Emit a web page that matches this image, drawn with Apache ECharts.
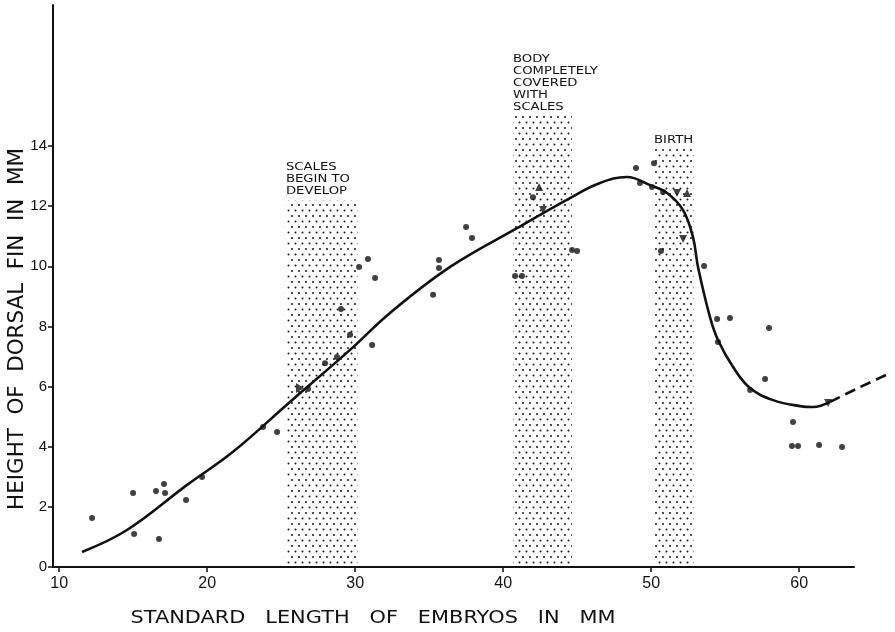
<!DOCTYPE html>
<html>
<head>
<meta charset="utf-8">
<script src="https://cdn.jsdelivr.net/npm/echarts@6/dist/echarts.min.js"></script>
<style>
  html, body { margin: 0; padding: 0; background: #fff; }
  #chart { width: 895px; height: 632px; }
</style>
</head>
<body>
<div id="chart"></div>
<script>
// Axis tick values
const xTicks = [10, 20, 30, 40, 50, 60];
const yTicks = [0, 2, 4, 6, 8, 10, 12, 14];

// Fitted growth curve: standard length (mm) -> dorsal fin height (mm)
const curveX = [11.54, 14.58, 18.64, 21.74, 25.59, 29.65, 32.35, 36.41, 40.93, 44.51,
                46.54, 48.36, 49.92, 51.07, 52.15, 52.82, 53.16, 53.97, 54.51, 55.53,
                56.68, 58.23, 60.05, 60.93, 62.08];
const curveY = [0.50, 1.23, 2.73, 3.83, 5.49, 7.22, 8.45, 9.98, 11.27, 12.27,
                12.77, 12.97, 12.70, 12.44, 11.87, 10.97, 9.98, 8.31, 7.55, 6.65,
                5.95, 5.55, 5.35, 5.32, 5.49];

// Extrapolated end of the curve (dashed)
const dashX = [62.08, 64.10, 66.14];
const dashY = [5.49, 5.98, 6.45];

// Individual embryos (dots)
const dotX = [12.22, 14.99, 15.06, 16.54, 17.08, 17.15, 16.74, 18.57, 19.65, 23.77,
              24.72, 26.81, 27.96, 28.77, 29.04, 30.26, 30.86, 31.34, 31.14, 29.65,
              35.26, 35.66, 35.66, 37.49, 37.89, 42.01, 40.80, 41.27, 44.65, 44.99,
              48.97, 50.19, 49.24, 50.05, 50.80, 50.66, 53.57, 54.45, 55.32, 54.51,
              57.96, 57.69, 56.68, 59.58, 59.51, 59.92, 61.34, 62.89];
const dotY = [1.63, 2.46, 1.10, 2.53, 2.76, 2.46, 0.93, 2.23, 2.99, 4.66,
              4.49, 5.92, 6.78, 6.98, 8.58, 9.98, 10.24, 9.61, 7.38, 7.72,
              9.05, 10.21, 9.94, 11.31, 10.94, 12.30, 9.68, 9.68, 10.54, 10.51,
              13.27, 13.43, 12.77, 12.64, 12.47, 10.51, 10.01, 8.25, 8.28, 7.48,
              7.95, 6.25, 5.89, 4.82, 4.02, 4.02, 4.06, 3.99];

// Individual embryos (triangles)
const upX = [42.42, 52.42];
const upY = [12.64, 12.44];
const downX = [42.69, 51.74, 52.15, 61.95];
const downY = [11.87, 12.44, 10.91, 5.45];
const rightX = [26.27];
const rightY = [5.95];

// Developmental stages, shaded as dotted bands
const stageNames = ['SCALES\nBEGIN TO\nDEVELOP',
                    'BODY\nCOMPLETELY\nCOVERED\nWITH\nSCALES',
                    'BIRTH'];
const stageFrom = [25.32, 40.66, 50.19];
const stageTo = [30.18, 44.64, 52.89];
const stageTop = [12.2, 15.0, 13.9];

const pairs = (xs, ys) => xs.map((x, i) => [x, ys[i]]);

// Stipple tile for the bands
const tile = document.createElement('canvas');
tile.width = 7;
tile.height = 11;
const tc = tile.getContext('2d');
tc.fillStyle = '#1a1a1a';
tc.beginPath();
tc.arc(1.5, 1.5, 1.0, 0, Math.PI * 2);
tc.moveTo(5 + 1.0, 7);
tc.arc(5, 7, 1.0, 0, Math.PI * 2);
tc.fill();
const stipple = { image: tile, repeat: 'repeat' };

const ink = '#111';
const chart = echarts.init(document.getElementById('chart'), null, { renderer: 'canvas' });

chart.setOption({
  animation: false,
  backgroundColor: '#fff',
  grid: { left: 53, right: 41, top: 5, bottom: 65, containLabel: false },
  xAxis: {
    type: 'value',
    min: 9.58,
    max: 63.70,
    axisLine: { onZero: false, lineStyle: { color: ink, width: 2 } },
    axisTick: { customValues: xTicks, length: 5, lineStyle: { color: ink, width: 1.5 } },
    axisLabel: { customValues: xTicks, margin: 9, color: ink, fontSize: 16,
                 fontFamily: 'Liberation Sans' },
    splitLine: { show: false }
  },
  yAxis: {
    type: 'value',
    min: 0,
    max: 18.69,
    axisLine: { show: true, onZero: false, lineStyle: { color: ink, width: 2 } },
    axisTick: { show: true, customValues: yTicks, length: 5, lineStyle: { color: ink, width: 1.5 } },
    axisLabel: { customValues: yTicks, margin: 6, color: ink, fontSize: 15,
                 fontFamily: 'Liberation Sans' },
    splitLine: { show: false }
  },
  graphic: [
    {
      type: 'text', x: 373, y: 618, scaleX: 1.16, silent: true,
      style: { text: 'STANDARD   LENGTH   OF   EMBRYOS   IN   MM', x: 0, y: 0,
               font: '18px "DejaVu Sans"', fill: ink,
               textAlign: 'center', textVerticalAlign: 'middle' }
    },
    {
      type: 'text', x: 18, y: 329, rotation: Math.PI / 2, scaleX: 1.02, silent: true,
      style: { text: 'HEIGHT  OF  DORSAL  FIN  IN  MM', x: 0, y: 0,
               font: '21px "DejaVu Sans"', fill: ink,
               textAlign: 'center', textVerticalAlign: 'middle' }
    }
  ],
  series: [
    {
      type: 'custom',
      z: 1,
      silent: true,
      encode: { x: [0, 1], y: 2 },
      data: stageFrom.map((v, i) => [v, stageTo[i], stageTop[i], i]),
      renderItem: function (params, api) {
        const p0 = api.coord([api.value(0), api.value(2)]);
        const p1 = api.coord([api.value(1), 0]);
        return {
          type: 'group',
          children: [
            {
              type: 'rect',
              shape: { x: p0[0], y: p0[1], width: p1[0] - p0[0], height: p1[1] - p0[1] },
              style: { fill: stipple }
            },
            {
              type: 'text',
              x: p0[0], y: p0[1] - 3, scaleX: 1.2,
              style: {
                text: stageNames[api.value(3)],
                font: '11px "DejaVu Sans"',
                fill: ink,
                lineHeight: 12,
                textAlign: 'left',
                textVerticalAlign: 'bottom'
              }
            }
          ]
        };
      }
    },
    {
      type: 'line',
      z: 3,
      data: pairs(curveX, curveY),
      smooth: 0.4,
      showSymbol: false,
      lineStyle: { color: ink, width: 2.6 }
    },
    {
      // dashed extrapolation, allowed to run past the end of the axis
      type: 'custom',
      z: 3,
      silent: true,
      clip: false,
      encode: { x: 0, y: 1 },
      data: pairs(dashX, dashY),
      renderItem: function (params, api) {
        if (params.dataIndex !== 0) return null;
        const pts = dashX.map((x, i) => api.coord([x, dashY[i]]));
        return {
          type: 'polyline',
          shape: { points: pts, smooth: 0.3 },
          style: { stroke: ink, lineWidth: 2.6, fill: null, lineDash: [11, 6] }
        };
      }
    },
    {
      type: 'scatter', z: 4,
      data: pairs(dotX, dotY),
      symbol: 'circle', symbolSize: 6,
      itemStyle: { color: ink }
    },
    {
      type: 'scatter', z: 4,
      data: pairs(upX, upY),
      symbol: 'triangle', symbolSize: 8,
      itemStyle: { color: ink }
    },
    {
      type: 'scatter', z: 4,
      data: pairs(downX, downY),
      symbol: 'triangle', symbolSize: 8, symbolRotate: 180,
      itemStyle: { color: ink }
    },
    {
      type: 'scatter', z: 4,
      data: pairs(rightX, rightY),
      symbol: 'triangle', symbolSize: [10, 8], symbolRotate: -90,
      itemStyle: { color: ink }
    }
  ]
});
</script>
</body>
</html>
